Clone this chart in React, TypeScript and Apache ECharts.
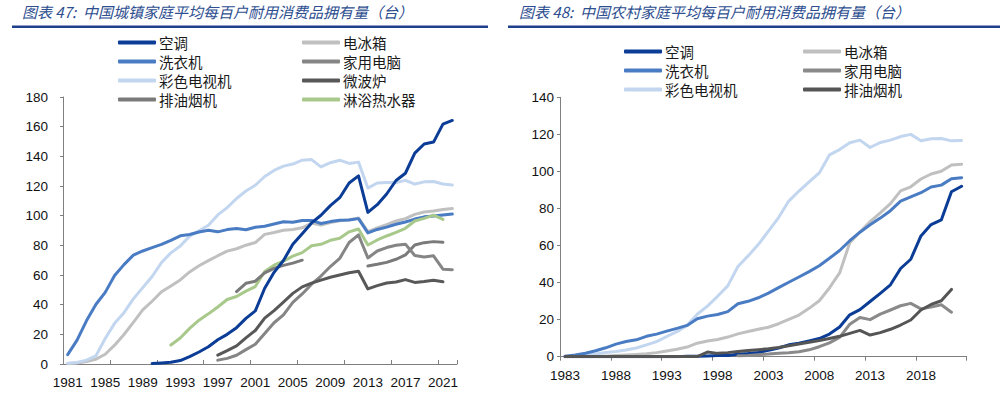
import React, { useEffect, useRef } from 'react';
import * as echarts from 'echarts';

// ---------- Categories ----------
const urbanYears = [
  '1981', '1982', '1983', '1984', '1985', '1986', '1987', '1988', '1989', '1990',
  '1991', '1992', '1993', '1994', '1995', '1996', '1997', '1998', '1999', '2000',
  '2001', '2002', '2003', '2004', '2005', '2006', '2007', '2008', '2009', '2010',
  '2011', '2012', '2013', '2014', '2015', '2016', '2017', '2018', '2019', '2020',
  '2021', '2022',
];
const ruralYears = [
  '1983', '1984', '1985', '1986', '1987', '1988', '1989', '1990', '1991', '1992',
  '1993', '1994', '1995', '1996', '1997', '1998', '1999', '2000', '2001', '2002',
  '2003', '2004', '2005', '2006', '2007', '2008', '2009', '2010', '2011', '2012',
  '2013', '2014', '2015', '2016', '2017', '2018', '2019', '2020', '2021', '2022',
];

// ---------- Urban (图表47), 1981-2022 ----------
const urbanAC = [
  null, null, null, null, null, null, null, null, null, 0.34,
  0.71, 1.19, 2.3, 5.0, 8.1, 11.6, 16.3, 20.0, 24.5, 30.8,
  35.8, 51.1, 61.8, 69.8, 80.7, 87.8, 95.1, 100.3, 106.8, 112.1,
  122.0, 126.8, 102.2, 107.4, 114.6, 123.7, 128.6, 142.2, 148.3, 149.6,
  161.7, 164.2,
];
const urbanFridge = [
  0.22, 0.7, 1.7, 3.2, 6.6, 12.7, 19.9, 28.1, 36.5, 42.3,
  48.7, 52.6, 56.7, 62.1, 66.2, 69.7, 73.0, 76.1, 77.7, 80.1,
  81.9, 87.4, 88.7, 90.2, 90.7, 91.8, 95.0, 93.6, 95.4, 96.6,
  97.2, 98.5, 89.2, 91.7, 94.0, 96.4, 98.0, 100.9, 102.5, 103.1,
  104.2, 104.8,
];
const urbanWasher = [
  6.3, 16.1, 29.1, 40.1, 48.3, 59.7, 67.0, 73.4, 76.2, 78.4,
  80.6, 83.4, 86.4, 87.3, 89.0, 90.1, 89.1, 90.6, 91.4, 90.5,
  92.2, 92.9, 94.4, 95.9, 95.5, 96.8, 96.8, 94.7, 96.0, 96.9,
  97.1, 98.0, 88.4, 90.7, 92.3, 94.2, 95.7, 97.7, 99.2, 99.7,
  100.5, 101.1,
];
const urbanTV = [
  0.59, 1.0, 2.6, 5.4, 17.2, 27.4, 34.6, 43.9, 51.5, 59.0,
  68.4, 74.9, 79.5, 86.2, 89.8, 93.5, 100.5, 105.4, 111.6, 116.6,
  120.5, 126.4, 130.5, 133.4, 134.8, 137.4, 137.8, 132.9, 135.7, 137.4,
  135.2, 136.1, 118.6, 122.0, 122.3, 122.3, 123.8, 121.3, 122.8, 123.0,
  121.4, 120.7,
];
const urbanPC = [
  null, null, null, null, null, null, null, null, null, null,
  null, null, null, null, null, null, 2.6, 3.8, 5.9, 9.7,
  13.3, 20.6, 27.8, 33.1, 41.5, 47.2, 53.8, 59.3, 65.7, 71.2,
  81.9, 87.0, 71.5, 76.2, 78.5, 80.0, 80.8, 73.1, 72.2, 72.9,
  63.9, 63.6,
];
const urbanMicrowave = [
  null, null, null, null, null, null, null, null, null, null,
  null, null, null, null, null, null, 6.0, 9.0, 12.2, 17.6,
  22.6, 30.9, 36.0, 41.7, 47.6, 52.0, 54.5, 56.5, 58.5, 60.0,
  61.5, 62.5, 50.6, 52.8, 54.6, 55.3, 56.9, 55.0, 55.6, 56.4,
  55.5, null,
];
const urbanHood = [
  null, null, null, null, null, null, null, null, null, null,
  null, null, null, null, null, null, null, null, 48.8, 54.4,
  55.8, 61.5, 64.5, 66.5, 68.0, 70.0, null, null, null, null,
  null, null, 66.1, 67.2, 68.5, 70.6, 73.5, 80.2, 81.8, 82.5,
  82.0, null,
];
const urbanHeater = [
  null, null, null, null, null, null, null, null, null, null,
  null, 12.8, 17.5, 24.0, 29.5, 33.8, 38.4, 43.5, 45.5, 49.1,
  52.2, 62.4, 66.6, 69.4, 72.7, 75.1, 79.7, 80.7, 83.4, 84.8,
  89.1, 91.0, 80.2, 83.6, 86.3, 88.8, 91.5, 96.4, 98.2, 100.4,
  97.5, null,
];

// ---------- Rural (图表48), 1983-2022 ----------
const ruralAC = [
  0, 0, 0, 0, 0, 0, 0, 0, 0, 0,
  0, 0, 0.2, 0.3, 0.4, 0.6, 0.7, 1.3, 1.7, 2.3,
  3.5, 4.7, 6.4, 7.3, 8.5, 9.8, 12.2, 16.0, 22.6, 25.4,
  29.8, 34.2, 38.8, 47.6, 52.6, 65.2, 71.3, 73.8, 89.0, 92.0,
];
const ruralFridge = [
  0.0, 0.05, 0.1, 0.2, 0.3, 0.6, 0.9, 1.2, 1.6, 2.2,
  3.1, 4.0, 5.2, 7.3, 8.5, 9.3, 10.6, 12.3, 13.6, 14.8,
  15.9, 17.8, 20.1, 22.5, 26.1, 30.2, 37.1, 45.2, 61.5, 67.3,
  72.9, 77.6, 82.6, 89.5, 91.7, 95.9, 98.6, 100.1, 103.5, 103.9,
];
const ruralWasher = [
  0.3, 0.9, 1.9, 3.2, 4.8, 6.8, 8.2, 9.1, 11.0, 12.2,
  13.8, 15.3, 16.9, 20.5, 21.9, 22.8, 24.3, 28.6, 29.9, 31.8,
  34.3, 37.3, 40.2, 43.0, 45.9, 49.1, 53.1, 57.3, 62.6, 67.2,
  71.2, 74.8, 78.8, 84.0, 86.3, 88.5, 91.6, 92.6, 96.1, 96.6,
];
const ruralTV = [
  0.2, 0.4, 0.8, 1.5, 2.3, 2.8, 3.6, 4.7, 6.4, 8.1,
  10.9, 13.5, 16.9, 22.9, 27.3, 32.6, 38.2, 48.7, 54.4, 60.5,
  67.8, 75.1, 84.0, 89.4, 94.4, 99.2, 108.9, 111.8, 115.5, 116.9,
  112.9, 115.6, 116.9, 118.8, 120.0, 116.6, 117.6, 117.8, 116.5, 116.7,
];
const ruralPC = [
  null, null, null, null, null, null, null, null, null, null,
  null, null, null, null, null, null, null, 0.5, 0.7, 1.1,
  1.4, 1.9, 2.1, 2.7, 3.7, 5.4, 7.5, 10.4, 17.5, 21.2,
  20.0, 23.0, 25.2, 27.5, 28.8, 25.8, 26.8, 28.0, 24.0, null,
];
const ruralHood = [
  0.1, 0.1, 0.1, 0.1, 0.1, 0.1, 0.1, 0.1, 0.1, 0.1,
  0.1, 0.1, 0.1, 0.1, 2.5, 1.8, 2.2, 2.8, 3.3, 3.8,
  4.3, 5.0, 5.9, 6.8, 7.8, 8.7, 9.8, 11.0, 12.6, 14.2,
  11.7, 13.0, 14.8, 17.1, 19.8, 25.2, 28.2, 30.2, 36.3, null,
];

// ---------- Names / colours ----------
const NAME_AC = '空调';
const NAME_FRIDGE = '电冰箱';
const NAME_WASHER = '洗衣机';
const NAME_PC = '家用电脑';
const NAME_TV = '彩色电视机';
const NAME_MICRO = '微波炉';
const NAME_HOOD = '排油烟机';
const NAME_HEATER = '淋浴热水器';

const C_AC = '#0B3C96';
const C_FRIDGE = '#C0C0C0';
const C_WASHER = '#4A7CC3';
const C_TV = '#C3D6EF';
const C_PC_U = '#858585';
const C_MICRO = '#585858';
const C_HOOD_U = '#7A7A7A';
const C_HEATER = '#A8C98B';
const C_PC_R = '#8A8A8A';
const C_HOOD_R = '#555555';

const TITLE_L = '图表 47:  中国城镇家庭平均每百户耐用消费品拥有量（台）';
const TITLE_R = '图表 48:  中国农村家庭平均每百户耐用消费品拥有量（台）';

const CJK = "'Noto Sans CJK SC', 'Noto Sans', sans-serif";
const NUM = "'Liberation Sans', Arial, sans-serif";

function lineSeries(name: string, data: (number | null)[], color: string, idx: number, z: number) {
  return {
    name,
    type: 'line',
    xAxisIndex: idx,
    yAxisIndex: idx,
    data,
    symbol: 'none',
    showSymbol: false,
    connectNulls: false,
    z,
    lineStyle: { width: 3, color, cap: 'round', join: 'round' },
    itemStyle: { color },
  };
}

function legendItem(name: string, color: string) {
  return { name, icon: 'roundRect', itemStyle: { color }, lineStyle: { color } };
}

function legendBlock(left: number, top: number, items: any[]) {
  return {
    orient: 'vertical',
    left,
    top,
    padding: 0,
    itemGap: 0,
    itemWidth: 38,
    itemHeight: 4,
    selectedMode: false,
    data: items,
    textStyle: { fontSize: 14.5, color: '#1A1A1A', fontFamily: CJK, lineHeight: 19, padding: [0, 0, 0, -2] },
  };
}

export default function App() {
  const ref = useRef<HTMLDivElement>(null);

  useEffect(() => {
    document.body.style.margin = '0';
    const chart = echarts.init(ref.current!, null, { renderer: 'svg' });

    const axisLineStyle = { color: '#7F7F7F', width: 1 };

    const option = {
      animation: false,
      backgroundColor: '#FFFFFF',
      title: [
        {
          text: TITLE_L,
          left: 22,
          top: 4,
          padding: 0,
          textStyle: { fontSize: 15, fontStyle: 'italic', fontWeight: 'normal', color: '#2D4E8F', fontFamily: CJK },
        },
        {
          text: TITLE_R,
          left: 519,
          top: 4,
          padding: 0,
          textStyle: { fontSize: 15, fontStyle: 'italic', fontWeight: 'normal', color: '#2D4E8F', fontFamily: CJK },
        },
      ],
      graphic: [
        { type: 'rect', shape: { x: 12, y: 25.5, width: 476, height: 2.6 }, style: { fill: '#1E3F8C' }, silent: true },
        { type: 'rect', shape: { x: 508, y: 25.5, width: 492, height: 2.6 }, style: { fill: '#1E3F8C' }, silent: true },
      ],
      legend: [
        legendBlock(118, 33, [
          legendItem(NAME_AC, C_AC),
          legendItem(NAME_WASHER, C_WASHER),
          legendItem(NAME_TV, C_TV),
          legendItem(NAME_HOOD, C_HOOD_U),
        ]),
        legendBlock(302, 33, [
          legendItem(NAME_FRIDGE, C_FRIDGE),
          legendItem(NAME_PC, C_PC_U),
          legendItem(NAME_MICRO, C_MICRO),
          legendItem(NAME_HEATER, C_HEATER),
        ]),
        legendBlock(624, 42, [
          legendItem(NAME_AC, C_AC),
          legendItem(NAME_WASHER, C_WASHER),
          legendItem(NAME_TV, C_TV),
        ]),
        legendBlock(803, 42, [
          legendItem(NAME_FRIDGE, C_FRIDGE),
          legendItem(NAME_PC, C_PC_R),
          legendItem(NAME_HOOD, C_HOOD_R),
        ]),
      ],
      grid: [
        { left: 63, top: 97, width: 394, height: 267, containLabel: false },
        { left: 560, top: 97.3, width: 406.7, height: 259.4, containLabel: false },
      ],
      xAxis: [
        {
          type: 'category',
          gridIndex: 0,
          data: urbanYears,
          boundaryGap: true,
          axisLine: { lineStyle: axisLineStyle },
          axisTick: { show: true, inside: true, length: 4, interval: 4, lineStyle: axisLineStyle },
          axisLabel: { interval: 3, margin: 11, fontSize: 13.5, color: '#111', fontFamily: NUM },
          splitLine: { show: false },
        },
        {
          type: 'category',
          gridIndex: 1,
          data: ruralYears,
          boundaryGap: true,
          axisLine: { lineStyle: axisLineStyle },
          axisTick: { show: true, inside: false, length: 4, interval: 4, lineStyle: axisLineStyle },
          axisLabel: { interval: 4, margin: 12, fontSize: 13.5, color: '#111', fontFamily: NUM },
          splitLine: { show: false },
        },
      ],
      yAxis: [
        {
          type: 'value',
          gridIndex: 0,
          min: 0,
          max: 180,
          interval: 20,
          axisLine: { show: true, lineStyle: axisLineStyle },
          axisTick: { show: true, length: 3, lineStyle: axisLineStyle },
          axisLabel: { margin: 15, fontSize: 13.5, color: '#111', fontFamily: NUM },
          splitLine: { show: false },
        },
        {
          type: 'value',
          gridIndex: 1,
          min: 0,
          max: 140,
          interval: 20,
          axisLine: { show: true, lineStyle: axisLineStyle },
          axisTick: { show: true, length: 3, lineStyle: axisLineStyle },
          axisLabel: { margin: 6, fontSize: 13.5, color: '#111', fontFamily: NUM },
          splitLine: { show: false },
        },
      ],
      series: [
        lineSeries(NAME_FRIDGE, urbanFridge, C_FRIDGE, 0, 2),
        lineSeries(NAME_WASHER, urbanWasher, C_WASHER, 0, 3),
        lineSeries(NAME_TV, urbanTV, C_TV, 0, 2),
        lineSeries(NAME_HEATER, urbanHeater, C_HEATER, 0, 3),
        lineSeries(NAME_HOOD, urbanHood, C_HOOD_U, 0, 3),
        lineSeries(NAME_PC, urbanPC, C_PC_U, 0, 3),
        lineSeries(NAME_MICRO, urbanMicrowave, C_MICRO, 0, 3),
        lineSeries(NAME_AC, urbanAC, C_AC, 0, 4),

        lineSeries(NAME_FRIDGE, ruralFridge, C_FRIDGE, 1, 2),
        lineSeries(NAME_TV, ruralTV, C_TV, 1, 2),
        lineSeries(NAME_WASHER, ruralWasher, C_WASHER, 1, 3),
        lineSeries(NAME_AC, ruralAC, C_AC, 1, 3),
        lineSeries(NAME_PC, ruralPC, C_PC_R, 1, 4),
        lineSeries(NAME_HOOD, ruralHood, C_HOOD_R, 1, 4),
      ],
    };

    chart.setOption(option as any);
    return () => chart.dispose();
  }, []);

  return <div ref={ref} style={{ width: 1000, height: 394 }} />;
}
